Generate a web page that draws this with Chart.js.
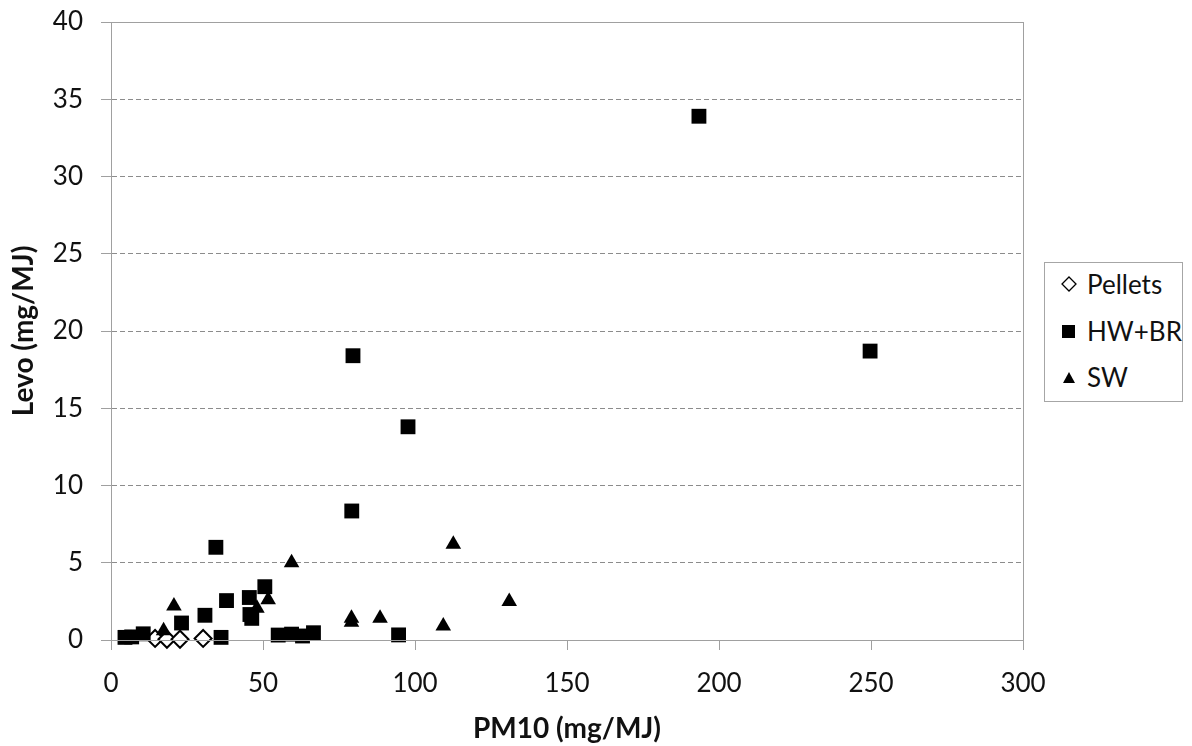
<!DOCTYPE html>
<html>
<head>
<meta charset="utf-8">
<script src="https://cdn.jsdelivr.net/npm/chart.js@4.4.1/dist/chart.umd.min.js"></script>
<style>
  html, body { margin: 0; padding: 0; background: #fff; }
  .wrap { position: relative; width: 1192px; height: 746px; }
  .legend {
    position: absolute; left: 1044px; top: 262px; width: 137px; height: 138px;
    border: 1px solid #a6a6a6; background: #fff;
    font-family: Lato, "Open Sans", sans-serif; font-size: 26px; color: #111;
  }
  .legend .row { position: absolute; left: 14px; height: 30px; line-height: 30px; }
  .legend .sym { position: absolute; left: 0; top: 0; width: 20px; height: 30px; }
  .legend .txt { position: absolute; left: 28px; top: 0; white-space: nowrap; }
</style>
</head>
<body>
<div class="wrap">
  <canvas id="chart" width="1192" height="746"></canvas>
  <div class="legend" id="legend"></div>
</div>
<script>
// Pellets
let pelletsX = [14.5, 18.4, 22.7, 30.3];
let pelletsY = [0.1, 0.05, 0.05, 0.1];

// HW+BR
let hwbrX = [4.6, 6.8, 10.6, 23.2, 30.9, 34.5, 36.2, 38.0, 45.5, 45.7, 46.3, 50.6, 55.0, 59.4, 63.0, 66.6, 79.2, 79.6, 94.6, 97.7, 193.4, 249.7];
let hwbrY = [0.17, 0.2, 0.4, 1.1, 1.6, 6.0, 0.17, 2.55, 2.75, 1.65, 1.4, 3.45, 0.32, 0.38, 0.26, 0.47, 8.35, 18.4, 0.33, 13.8, 33.9, 18.7];

// SW
let swX = [17.3, 20.7, 48.0, 51.7, 59.4, 79.1, 79.1, 88.5, 109.3, 112.6, 131.0];
let swY = [0.6, 2.2, 2.05, 2.6, 5.0, 1.4, 1.15, 1.4, 0.9, 6.2, 2.5];

let xTicks = [0, 50, 100, 150, 200, 250, 300];
let yTicks = [0, 5, 10, 15, 20, 25, 30, 35, 40];

let toPoints = (xs, ys) => xs.map((x, i) => ({ x: x, y: ys[i] }));

let tickFont = { family: 'Lato, "Open Sans", sans-serif', size: 26 };
let titleFont = { family: 'Lato, "Open Sans", sans-serif', size: 28, weight: 'bold', lineHeight: 1.2 };

// grey frame round the plot area
let frame = {
  id: 'frame',
  afterDraw(chart) {
    let { ctx, chartArea: a } = chart;
    ctx.save();
    ctx.strokeStyle = '#a0a0a0';
    ctx.lineWidth = 1;
    ctx.setLineDash([]);
    ctx.strokeRect(Math.round(a.left) + 0.5, Math.round(a.top) + 0.5,
      Math.round(a.right - a.left), Math.round(a.bottom - a.top));
    ctx.restore();
  }
};

var ctx = document.querySelector("#chart").getContext("2d");

var chart = new Chart(ctx, {
  type: 'scatter',
  data: {
    datasets: [
      {
        label: 'HW+BR',
        data: toPoints(hwbrX, hwbrY),
        pointStyle: 'rect',
        pointRadius: 10.5,
        backgroundColor: '#000',
        borderColor: '#000',
        borderWidth: 0,
        clip: false,
      },
      {
        label: 'SW',
        data: toPoints(swX, swY),
        pointStyle: 'triangle',
        pointRadius: 9,
        backgroundColor: '#000',
        borderColor: '#000',
        borderWidth: 0,
        clip: false,
      },
      {
        label: 'Pellets',
        data: toPoints(pelletsX, pelletsY),
        pointStyle: 'rectRot',
        pointRadius: 8.5,
        backgroundColor: '#fff',
        borderColor: '#000',
        borderWidth: 2,
        clip: false,
      },
    ],
  },
  options: {
    responsive: false,
    animation: false,
    events: [],
    layout: { padding: { top: 22, right: 169, bottom: 0, left: 0 } },
    plugins: { legend: { display: false }, tooltip: { enabled: false } },
    scales: {
      x: {
        type: 'linear',
        min: 0, max: 300,
        afterBuildTicks: (s) => { s.ticks = xTicks.map(v => ({ value: v })); },
        afterFit: (s) => { s.height = 106; s.paddingLeft = 0; s.paddingRight = 0; },
        grid: { drawOnChartArea: false, drawTicks: true, tickLength: 10, color: '#a0a0a0', tickColor: '#a0a0a0' },
        border: { display: true, color: '#a0a0a0', width: 1 },
        ticks: { font: tickFont, color: '#111', padding: 18, maxRotation: 0 },
        title: { display: true, text: 'PM10 (mg/MJ)', font: titleFont, color: '#111', padding: { top: 0, bottom: 0 } },
      },
      y: {
        type: 'linear',
        min: 0, max: 40,
        afterBuildTicks: (s) => { s.ticks = yTicks.map(v => ({ value: v })); },
        afterFit: (s) => { s.width = 111; s.paddingTop = 0; s.paddingBottom = 0; },
        grid: {
          drawTicks: true, tickLength: 10,
          color: (c) => (c.tick && (c.tick.value === 0 || c.tick.value === 40)) ? 'rgba(0,0,0,0)' : '#8c8c8c',
          tickColor: '#a0a0a0',
          tickBorderDash: [],
        },
        border: { display: true, color: '#a0a0a0', width: 1, dash: [5, 3] },
        ticks: { font: tickFont, color: '#111', padding: 18 },
        title: { display: true, text: 'Levo (mg/MJ)', font: titleFont, color: '#111', padding: { top: 7, bottom: 0 } },
      },
    },
  },
  plugins: [frame],
});

// legend, same order as the reference
let legendItems = [
  { label: 'Pellets', shape: 'diamond' },
  { label: 'HW+BR', shape: 'square' },
  { label: 'SW', shape: 'triangle' },
];
let legendTops = [6, 53, 99];

let legend = document.querySelector("#legend");
legend.innerHTML = legendItems.map((it, i) => {
  let sym = '';
  if (it.shape === 'diamond') {
    sym = `<svg class="sym" viewBox="0 0 20 30"><path d="M10 8 L17 15 L10 22 L3 15 Z" fill="#fff" stroke="#000" stroke-width="1.3"/></svg>`;
  } else if (it.shape === 'square') {
    sym = `<svg class="sym" viewBox="0 0 20 30"><rect x="3" y="9" width="13" height="13" fill="#000"/></svg>`;
  } else {
    sym = `<svg class="sym" viewBox="0 0 20 30"><path d="M10 10 L16 21 L4 21 Z" fill="#000"/></svg>`;
  }
  return `<div class="row" style="top:${legendTops[i]}px">${sym}<span class="txt">${it.label}</span></div>`;
}).join('');
</script>
</body>
</html>
